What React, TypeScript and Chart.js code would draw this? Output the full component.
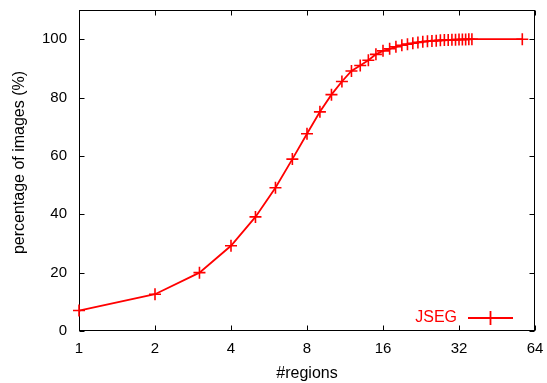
import React, { useEffect, useRef } from 'react';
import { Chart, registerables } from 'chart.js';

Chart.register(...registerables);

const regions = [1, 2, 3, 4, 5, 6, 7, 8, 9, 10, 11, 12, 13, 14, 15, 16, 17, 18, 19, 20, 21, 22, 23, 24, 25, 26, 27, 28, 29, 30, 31, 32, 33, 34, 35, 36, 57];
const percentImages = [7.0, 12.6, 20.0, 29.2, 39.1, 49.1, 58.9, 67.6, 75.1, 81.0, 85.5, 89.1, 91.0, 92.8, 94.8, 96.0, 96.7, 97.4, 97.9, 98.3, 98.6, 98.9, 99.1, 99.3, 99.4, 99.5, 99.6, 99.7, 99.7, 99.8, 99.8, 99.9, 99.9, 99.9, 100, 100, 100];
const xTickValues = [1, 2, 4, 8, 16, 32, 64];
const yTickValues = [0, 20, 40, 60, 80, 100];
const seriesLabel = 'JSEG';
const xTitle = '#regions';
const yTitle = 'percentage of images (%)';

const FONT = "'Liberation Sans', Arial, Helvetica, sans-serif";
const RED = '#ff0000';

export default function App() {
  const ref = useRef<HTMLCanvasElement | null>(null);

  useEffect(() => {
    if (!ref.current) return;

    const framePlugin = {
      id: 'frame',
      beforeDatasetsDraw(chart: any) {
        const { ctx, chartArea: a, scales } = chart;
        const L = Math.round(a.left) + 0.5;
        const R = Math.round(a.right) - 0.5;
        const T = Math.round(a.top) + 0.5;
        const B = Math.round(a.bottom) - 0.5;
        const tl = 5;
        ctx.save();
        ctx.strokeStyle = '#000';
        ctx.lineWidth = 1;
        ctx.beginPath();
        for (const v of xTickValues) {
          const px = Math.round(scales.x.getPixelForValue(v)) + 0.5;
          ctx.moveTo(px, B);
          ctx.lineTo(px, B - tl);
          ctx.moveTo(px, T);
          ctx.lineTo(px, T + tl);
        }
        for (const v of yTickValues) {
          const py = Math.round(scales.y.getPixelForValue(v)) + 0.5;
          ctx.moveTo(L, py);
          ctx.lineTo(L + tl, py);
          ctx.moveTo(R, py);
          ctx.lineTo(R - tl, py);
        }
        ctx.stroke();
        ctx.strokeRect(L, T, R - L, B - T);

        // y axis title
        ctx.font = `16px ${FONT}`;
        ctx.fillStyle = '#000';
        ctx.textAlign = 'center';
        ctx.textBaseline = 'middle';
        ctx.translate(20, (a.top + a.bottom) / 2 - 8);
        ctx.rotate(-Math.PI / 2);
        ctx.fillText(yTitle, 0, 0);
        ctx.restore();
      },
    };

    const legendPlugin = {
      id: 'innerLegend',
      afterDatasetsDraw(chart: any) {
        const { ctx, chartArea: a } = chart;
        const ds = chart.data.datasets[0];
        const y = a.bottom - 13;
        const x1 = a.right - 67;
        const x2 = a.right - 22;
        const cx = (x1 + x2) / 2;
        ctx.save();
        ctx.font = `16px ${FONT}`;
        ctx.fillStyle = RED;
        ctx.textAlign = 'right';
        ctx.textBaseline = 'middle';
        ctx.fillText(ds.label, x1 - 11, y);
        ctx.strokeStyle = RED;
        ctx.lineWidth = 1.8;
        ctx.beginPath();
        ctx.moveTo(x1, y);
        ctx.lineTo(x2, y);
        ctx.moveTo(cx, y - 7);
        ctx.lineTo(cx, y + 7);
        ctx.stroke();
        ctx.restore();
      },
    };

    const zeroPad = (s: any) => {
      s.paddingTop = 0;
      s.paddingBottom = 0;
      s.paddingLeft = 0;
      s.paddingRight = 0;
    };

    const chart = new Chart(ref.current, {
      type: 'line',
      data: {
        datasets: [
          {
            label: seriesLabel,
            data: regions.map((r, i) => ({ x: r, y: percentImages[i] })),
            borderColor: RED,
            backgroundColor: RED,
            borderWidth: 1.8,
            pointStyle: 'cross',
            pointRadius: 6,
            pointBorderWidth: 1.6,
            pointBorderColor: RED,
            pointHoverRadius: 6,
            tension: 0,
            fill: false,
            clip: false as any,
          },
        ],
      },
      options: {
        animation: false,
        responsive: false,
        maintainAspectRatio: false,
        events: [],
        layout: { padding: { top: 10, right: 12, left: 0, bottom: 0 } },
        plugins: {
          legend: { display: false },
          tooltip: { enabled: false },
        },
        scales: {
          x: {
            type: 'logarithmic',
            min: 1,
            max: 64,
            afterBuildTicks: (s: any) => {
              s.ticks = xTickValues.map((v) => ({ value: v }));
            },
            afterFit: (s: any) => {
              s.height = 52;
              zeroPad(s);
            },
            grid: { display: false, drawTicks: false },
            border: { display: false },
            ticks: {
              autoSkip: false,
              maxRotation: 0,
              minRotation: 0,
              padding: 9,
              color: '#000',
              font: { family: FONT, size: 15 },
              callback: (v: any) => String(v),
            },
            title: {
              display: true,
              text: xTitle,
              color: '#000',
              font: { family: FONT, size: 16 },
              padding: { top: 0, bottom: 0 },
            },
          },
          y: {
            type: 'linear',
            min: 0,
            max: 110,
            afterBuildTicks: (s: any) => {
              s.ticks = yTickValues.map((v) => ({ value: v }));
            },
            afterFit: (s: any) => {
              s.width = 79;
              zeroPad(s);
            },
            grid: { display: false, drawTicks: false },
            border: { display: false },
            ticks: {
              padding: 12,
              color: '#000',
              font: { family: FONT, size: 15 },
              callback: (v: any) => String(v),
            },
            title: { display: false },
          },
        },
      },
      plugins: [framePlugin, legendPlugin],
    } as any);

    return () => chart.destroy();
  }, []);

  return (
    <div style={{ position: 'fixed', left: 0, top: 0, width: 547, height: 383, background: '#fff' }}>
      <canvas ref={ref} width={547} height={383} style={{ width: 547, height: 383, display: 'block' }} />
    </div>
  );
}
